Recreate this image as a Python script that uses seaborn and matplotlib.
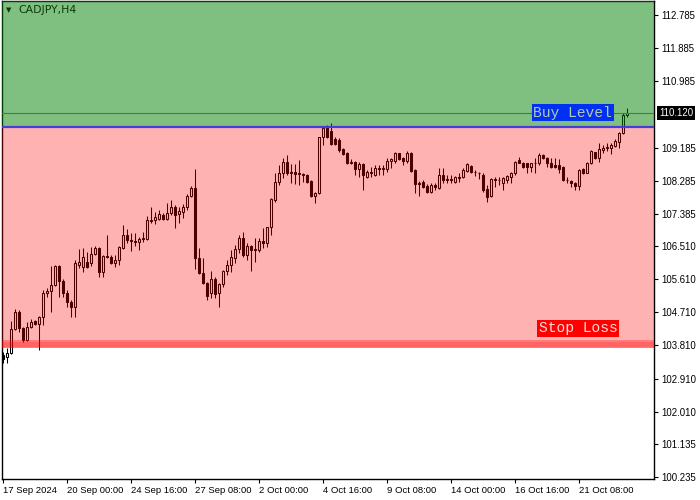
import matplotlib
matplotlib.use('Agg')
import numpy as np
import pandas as pd
import matplotlib.pyplot as plt
import matplotlib.transforms as mtransforms
import seaborn as sns

#########################
#         Data          #
#########################

symbol = 'CADJPY,H4'

opens = [103.55, 103.49, 103.60, 104.25, 104.71, 104.28, 103.95, 104.31, 104.47, 104.39,
         104.58, 105.23, 105.28, 105.45, 105.96, 105.56, 105.23, 104.98, 104.85, 105.99,
         105.94, 106.07, 106.04, 106.29, 106.45, 105.80, 106.23, 106.21, 106.04, 106.13,
         106.45, 106.81, 106.67, 106.64, 106.61, 106.70, 106.70, 107.21, 107.21, 107.24,
         107.35, 107.24, 107.40, 107.57, 107.38, 107.43, 107.57, 107.87, 108.08, 106.18,
         105.77, 105.50, 105.23, 105.61, 105.23, 105.47, 105.83, 105.99, 106.18, 106.43,
         106.72, 106.26, 106.51, 106.40, 106.40, 106.64, 106.59, 107.02, 107.76, 108.25,
         108.49, 108.79, 108.49, 108.52, 108.49, 108.46, 108.44, 108.27, 107.87, 107.95,
         109.47, 109.74, 109.63, 109.41, 109.39, 109.14, 109.03, 108.76, 108.79, 108.60,
         108.73, 108.38, 108.49, 108.44, 108.63, 108.60, 108.60, 108.82, 108.82, 109.03,
         108.90, 108.82, 109.03, 108.57, 108.22, 108.25, 108.14, 107.97, 108.16, 108.08,
         108.44, 108.30, 108.33, 108.25, 108.38, 108.38, 108.54, 108.68, 108.52, 108.50,
         108.44, 108.06, 107.87, 108.33, 108.30, 108.22, 108.30, 108.38, 108.49, 108.84,
         108.76, 108.76, 108.65, 108.76, 108.76, 108.98, 108.90, 108.76, 108.71, 108.71,
         108.65, 108.30, 108.27, 108.22, 108.14, 108.60, 108.49, 108.76, 109.06, 108.90,
         109.11, 109.17, 109.17, 109.22, 109.33, 109.58, 110.07]

highs = [103.62, 103.74, 104.47, 104.79, 104.77, 104.31, 104.44, 104.52, 104.50, 104.60,
         105.31, 105.37, 105.96, 105.99, 105.99, 105.61, 105.31, 105.04, 106.13, 106.43,
         106.45, 106.34, 106.48, 106.51, 106.48, 106.26, 106.81, 106.26, 106.26, 106.51,
         107.08, 106.97, 106.86, 106.86, 106.75, 106.89, 107.32, 107.57, 107.43, 107.48,
         107.40, 107.67, 107.76, 107.62, 107.57, 107.65, 107.92, 108.14, 108.60, 106.45,
         106.18, 105.53, 105.83, 105.66, 105.50, 105.85, 106.13, 106.40, 106.53, 106.81,
         106.89, 106.59, 106.53, 106.72, 106.72, 107.00, 107.02, 107.81, 108.49, 108.71,
         108.90, 108.98, 108.73, 108.73, 108.84, 108.49, 108.46, 108.30, 107.97, 109.47,
         109.77, 109.79, 109.85, 109.47, 109.44, 109.17, 109.06, 108.87, 108.82, 108.79,
         108.76, 108.57, 108.65, 108.71, 108.71, 108.71, 108.90, 108.90, 109.06, 109.04,
         108.92, 109.09, 109.06, 108.60, 108.27, 108.30, 108.19, 108.22, 108.22, 108.63,
         108.63, 108.44, 108.44, 108.41, 108.49, 108.63, 108.76, 108.71, 108.57, 108.52,
         108.49, 108.16, 108.35, 108.38, 108.38, 108.38, 108.44, 108.52, 108.82, 108.92,
         108.79, 108.76, 108.76, 108.90, 109.03, 109.01, 108.92, 108.90, 108.90, 108.87,
         108.68, 108.38, 108.30, 108.25, 108.60, 108.63, 108.79, 109.11, 109.06, 109.30,
         109.25, 109.30, 109.30, 109.41, 109.60, 110.12, 110.26]

lows = [103.33, 103.33, 103.58, 104.22, 104.17, 103.90, 103.93, 104.28, 104.36, 103.68,
        104.36, 105.12, 104.71, 105.42, 105.12, 105.12, 104.85, 104.58, 104.58, 105.91,
        105.80, 105.91, 105.96, 106.26, 105.67, 105.67, 106.18, 106.02, 105.94, 105.99,
        106.43, 106.59, 106.37, 106.51, 106.40, 106.61, 106.67, 107.13, 107.10, 107.21,
        107.21, 107.21, 107.35, 107.00, 107.13, 107.27, 107.48, 107.84, 105.88, 105.75,
        105.47, 105.04, 105.09, 105.09, 104.85, 105.39, 105.72, 105.80, 106.04, 106.32,
        106.21, 106.13, 105.83, 106.07, 106.34, 106.45, 106.48, 106.81, 107.70, 108.16,
        108.35, 108.44, 108.22, 108.19, 108.16, 108.25, 108.22, 107.84, 107.67, 107.92,
        109.25, 109.44, 109.25, 109.25, 109.06, 108.98, 108.73, 108.73, 108.44, 108.38,
        108.03, 108.35, 108.38, 108.41, 108.44, 108.44, 108.52, 108.63, 108.76, 108.84,
        108.71, 108.76, 108.52, 107.95, 107.87, 108.08, 107.95, 107.95, 108.03, 108.06,
        108.22, 108.22, 108.22, 108.22, 108.25, 108.35, 108.52, 108.49, 108.41, 108.33,
        107.97, 107.70, 107.84, 108.11, 108.16, 108.03, 108.22, 108.22, 108.44, 108.76,
        108.63, 108.49, 108.52, 108.49, 108.71, 108.87, 108.65, 108.63, 108.63, 108.49,
        108.27, 108.22, 108.11, 108.03, 108.03, 108.46, 108.49, 108.73, 108.87, 108.79,
        109.03, 109.09, 109.01, 109.20, 109.17, 109.55, 110.01]

closes = [103.45, 103.60, 104.25, 104.71, 104.28, 103.95, 104.31, 104.44, 104.39, 104.58,
          105.23, 105.28, 105.45, 105.96, 105.56, 105.23, 104.98, 104.85, 106.04, 106.07,
          106.21, 105.94, 106.29, 106.45, 105.80, 106.23, 106.21, 106.04, 106.13, 106.48,
          106.81, 106.67, 106.64, 106.61, 106.70, 106.72, 107.21, 107.19, 107.29, 107.38,
          107.24, 107.40, 107.57, 107.35, 107.46, 107.57, 107.87, 108.08, 106.18, 105.77,
          105.50, 105.15, 105.61, 105.20, 105.47, 105.83, 105.99, 106.21, 106.43, 106.72,
          106.26, 106.51, 106.40, 106.43, 106.64, 106.59, 107.02, 107.78, 108.25, 108.49,
          108.79, 108.49, 108.52, 108.46, 108.46, 108.44, 108.25, 107.87, 107.95, 109.47,
          109.71, 109.47, 109.28, 109.28, 109.11, 109.01, 108.76, 108.79, 108.60, 108.73,
          108.44, 108.52, 108.52, 108.63, 108.60, 108.63, 108.82, 108.87, 109.03, 108.87,
          108.82, 109.03, 108.54, 108.19, 108.20, 108.11, 107.97, 108.16, 108.10, 108.44,
          108.30, 108.33, 108.30, 108.38, 108.37, 108.57, 108.73, 108.52, 108.51, 108.49,
          108.03, 107.84, 108.33, 108.30, 108.31, 108.35, 108.41, 108.49, 108.79, 108.76,
          108.65, 108.65, 108.76, 108.77, 108.98, 108.90, 108.76, 108.65, 108.65, 108.60,
          108.30, 108.29, 108.22, 108.14, 108.57, 108.49, 108.76, 109.09, 108.90, 109.14,
          109.17, 109.20, 109.25, 109.36, 109.58, 110.07, 110.12]

buy_level = 109.75
stop_loss = 103.83
last_price = 110.12

y_ticks = [112.785, 111.885, 110.985, 109.185, 108.285, 107.385, 106.510,
           105.610, 104.710, 103.810, 102.910, 102.010, 101.135, 100.235]
x_tick_bars = [0, 16, 32, 48, 64, 80, 96, 112, 128, 144]
x_tick_labels = ['17 Sep 2024', '20 Sep 00:00', '24 Sep 16:00', '27 Sep 08:00', '2 Oct 00:00',
                 '4 Oct 16:00', '9 Oct 08:00', '14 Oct 00:00', '16 Oct 16:00', '21 Oct 08:00']

df = pd.DataFrame({'open': opens, 'high': highs, 'low': lows, 'close': closes})
df['bar'] = np.arange(len(df))
up = df['close'] >= df['open']

##########################
#   Plotting the data    #
##########################
sns.set_theme(style='white')
plt.rcParams['font.family'] = ['Liberation Sans', 'DejaVu Sans']

fig = plt.figure(figsize=(7, 5), dpi=100)
ax = fig.add_axes([2 / 700, 21 / 500, 652 / 700, 478 / 500])
ax.set_facecolor('white')
y_min, y_max = 100.180, 113.165
ax.set_xlim(-0.25, 162.75)
ax.set_ylim(y_min, y_max)

#Candles (black, later tinted by the zone overlays)
ax.vlines(df['bar'], df['low'], df['high'], color='black', lw=0.75, zorder=2)
ax.bar(df.loc[up, 'bar'], df.loc[up, 'close'] - df.loc[up, 'open'], bottom=df.loc[up, 'open'],
       width=0.5, facecolor='white', edgecolor='black', lw=0.75, zorder=3)
ax.bar(df.loc[~up, 'bar'], df.loc[~up, 'open'] - df.loc[~up, 'close'], bottom=df.loc[~up, 'close'],
       width=0.5, facecolor='black', edgecolor='black', lw=0.75, zorder=3)

#Current price line
ax.axhline(last_price, color='#808080', lw=0.8, zorder=3)

#Zones
ax.axhspan(buy_level, y_max + 1, color=(0, 0.5, 0), alpha=0.5, lw=0, zorder=4)
ax.axhspan(103.74, buy_level, color='red', alpha=0.3, lw=0, zorder=4)
ax.axhspan(103.73, 103.95, color='red', alpha=0.3, lw=0, zorder=4)
ax.axhspan(103.77, 103.90, color='red', alpha=0.2, lw=0, zorder=4)
ax.axhline(buy_level, color='#4A3CD8', lw=1.6, zorder=5)

#Labels
ax.text(132.6, 110.13, 'Buy Level', family='Liberation Mono', fontsize=10.5, color='#B4C8B4',
        ha='left', va='center', zorder=6,
        bbox=dict(boxstyle='square,pad=0.1', fc='#0030F0', ec='none'))
ax.text(133.9, 104.27, 'Stop Loss', family='Liberation Mono', fontsize=10.5, color='#FFD8D8',
        ha='left', va='center', zorder=6,
        bbox=dict(boxstyle='square,pad=0.1', fc='#FF0000', ec='none'))

ax.text(0.006, 0.981, '\u25bc', transform=ax.transAxes, fontsize=5, color='#0A3A0A',
        ha='left', va='center', family=['DejaVu Sans'], zorder=6)
ax.text(0.0245, 0.981, symbol, transform=ax.transAxes, fontsize=7.8, color='#0A3A0A',
        ha='left', va='center', family=['DejaVu Sans'], zorder=6)

trans = mtransforms.blended_transform_factory(ax.transAxes, ax.transData)
ax.text(1.0075, last_price, f'{last_price:.3f}', transform=trans, fontsize=6.9, color='white',
        ha='left', va='center', clip_on=False, zorder=6,
        bbox=dict(boxstyle='square,pad=0.2', fc='black', ec='none'))

#Axes
ax.yaxis.tick_right()
ax.set_yticks(y_ticks)
ax.set_yticklabels([f'{v:.3f}' for v in y_ticks])
ax.set_xticks(x_tick_bars)
ax.set_xticklabels(x_tick_labels, ha='left')
ax.tick_params(axis='y', right=True, left=False, length=3, width=0.8, pad=2,
               labelsize=6.9, colors='black')
ax.tick_params(axis='x', bottom=True, length=3, width=0.8, pad=2,
               labelsize=6.8, colors='black')
for side in ax.spines.values():
    side.set_color('black')
    side.set_linewidth(1)
ax.grid(False)

plt.savefig('out.png', dpi=100)
